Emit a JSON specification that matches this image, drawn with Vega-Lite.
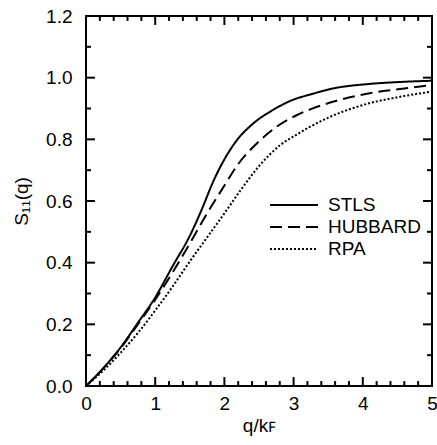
{
  "$schema": "https://vega.github.io/schema/vega-lite/v6.json",
  "width": 346,
  "height": 370,
  "autosize": {"type": "none"},
  "padding": {"left": 86, "top": 16, "right": 5, "bottom": 59},
  "background": "white",
  "config": {
    "font": "Liberation Sans",
    "view": {"stroke": "black", "strokeWidth": 2},
    "axis": {
      "domain": false,
      "ticks": false,
      "tickSize": 0,
      "grid": false,
      "labelColor": "black",
      "labelFontSize": 19,
      "labelFont": "Liberation Sans",
      "titleFont": "Liberation Sans",
      "titleFontSize": 19,
      "titleFontWeight": "normal",
      "titleColor": "black"
    }
  },
  "datasets": {
    "main": [
      {"q": 0, "S": 0, "model": "STLS"},
      {"q": 0.25, "S": 0.058, "model": "STLS"},
      {"q": 0.5, "S": 0.125, "model": "STLS"},
      {"q": 0.75, "S": 0.205, "model": "STLS"},
      {"q": 1.0, "S": 0.287, "model": "STLS"},
      {"q": 1.25, "S": 0.388, "model": "STLS"},
      {"q": 1.5, "S": 0.487, "model": "STLS"},
      {"q": 1.67, "S": 0.571, "model": "STLS"},
      {"q": 1.84, "S": 0.664, "model": "STLS"},
      {"q": 2.0, "S": 0.735, "model": "STLS"},
      {"q": 2.18, "S": 0.797, "model": "STLS"},
      {"q": 2.42, "S": 0.852, "model": "STLS"},
      {"q": 2.7, "S": 0.895, "model": "STLS"},
      {"q": 3.0, "S": 0.929, "model": "STLS"},
      {"q": 3.25, "S": 0.946, "model": "STLS"},
      {"q": 3.57, "S": 0.965, "model": "STLS"},
      {"q": 4.06, "S": 0.979, "model": "STLS"},
      {"q": 4.54, "S": 0.986, "model": "STLS"},
      {"q": 5.0, "S": 0.99, "model": "STLS"},
      {"q": 0, "S": 0, "model": "HUBBARD"},
      {"q": 0.25, "S": 0.057, "model": "HUBBARD"},
      {"q": 0.5, "S": 0.123, "model": "HUBBARD"},
      {"q": 0.75, "S": 0.2, "model": "HUBBARD"},
      {"q": 1.0, "S": 0.28, "model": "HUBBARD"},
      {"q": 1.25, "S": 0.368, "model": "HUBBARD"},
      {"q": 1.5, "S": 0.462, "model": "HUBBARD"},
      {"q": 1.75, "S": 0.56, "model": "HUBBARD"},
      {"q": 2.0, "S": 0.65, "model": "HUBBARD"},
      {"q": 2.2, "S": 0.72, "model": "HUBBARD"},
      {"q": 2.47, "S": 0.787, "model": "HUBBARD"},
      {"q": 2.75, "S": 0.84, "model": "HUBBARD"},
      {"q": 3.05, "S": 0.879, "model": "HUBBARD"},
      {"q": 3.24, "S": 0.897, "model": "HUBBARD"},
      {"q": 3.57, "S": 0.922, "model": "HUBBARD"},
      {"q": 4.06, "S": 0.948, "model": "HUBBARD"},
      {"q": 4.54, "S": 0.963, "model": "HUBBARD"},
      {"q": 5.0, "S": 0.976, "model": "HUBBARD"},
      {"q": 0, "S": 0, "model": "RPA"},
      {"q": 0.25, "S": 0.05, "model": "RPA"},
      {"q": 0.5, "S": 0.108, "model": "RPA"},
      {"q": 0.75, "S": 0.172, "model": "RPA"},
      {"q": 1.0, "S": 0.245, "model": "RPA"},
      {"q": 1.25, "S": 0.322, "model": "RPA"},
      {"q": 1.5, "S": 0.404, "model": "RPA"},
      {"q": 1.75, "S": 0.482, "model": "RPA"},
      {"q": 2.0, "S": 0.56, "model": "RPA"},
      {"q": 2.25, "S": 0.64, "model": "RPA"},
      {"q": 2.5, "S": 0.713, "model": "RPA"},
      {"q": 2.8, "S": 0.78, "model": "RPA"},
      {"q": 3.05, "S": 0.816, "model": "RPA"},
      {"q": 3.24, "S": 0.841, "model": "RPA"},
      {"q": 3.57, "S": 0.877, "model": "RPA"},
      {"q": 4.06, "S": 0.915, "model": "RPA"},
      {"q": 4.54, "S": 0.938, "model": "RPA"},
      {"q": 5.0, "S": 0.955, "model": "RPA"}
    ],
    "xt": [
      {"q": 1, "kind": "major"}, {"q": 2, "kind": "major"}, {"q": 3, "kind": "major"}, {"q": 4, "kind": "major"},
      {"q": 0.2, "kind": "minor"}, {"q": 0.4, "kind": "minor"}, {"q": 0.6, "kind": "minor"}, {"q": 0.8, "kind": "minor"},
      {"q": 1.2, "kind": "minor"}, {"q": 1.4, "kind": "minor"}, {"q": 1.6, "kind": "minor"}, {"q": 1.8, "kind": "minor"},
      {"q": 2.2, "kind": "minor"}, {"q": 2.4, "kind": "minor"}, {"q": 2.6, "kind": "minor"}, {"q": 2.8, "kind": "minor"},
      {"q": 3.2, "kind": "minor"}, {"q": 3.4, "kind": "minor"}, {"q": 3.6, "kind": "minor"}, {"q": 3.8, "kind": "minor"},
      {"q": 4.2, "kind": "minor"}, {"q": 4.4, "kind": "minor"}, {"q": 4.6, "kind": "minor"}, {"q": 4.8, "kind": "minor"}
    ],
    "yt": [
      {"S": 0.2, "kind": "major"}, {"S": 0.4, "kind": "major"}, {"S": 0.6, "kind": "major"}, {"S": 0.8, "kind": "major"}, {"S": 1.0, "kind": "major"},
      {"S": 0.1, "kind": "minor"}, {"S": 0.3, "kind": "minor"}, {"S": 0.5, "kind": "minor"}, {"S": 0.7, "kind": "minor"}, {"S": 0.9, "kind": "minor"}, {"S": 1.1, "kind": "minor"}
    ]
  },
  "layer": [
    {
      "data": {"name": "main"},
      "mark": {"type": "line", "interpolate": "monotone", "color": "black", "strokeWidth": 2},
      "encoding": {
        "x": {
          "field": "q", "type": "quantitative",
          "scale": {"domain": [0, 5], "nice": false, "zero": false},
          "axis": {
            "orient": "bottom",
            "title": "q/kꜰ",
            "values": [0, 1, 2, 3, 4, 5],
            "format": "d",
            "labelPadding": 8,
            "labelFlush": false,
            "labelOverlap": false,
            "titlePadding": 3
          }
        },
        "y": {
          "field": "S", "type": "quantitative",
          "scale": {"domain": [0, 1.2], "nice": false, "zero": false},
          "axis": {
            "orient": "left",
            "title": "S₁₁(q)",
            "values": [0, 0.2, 0.4, 0.6, 0.8, 1.0, 1.2],
            "format": ".1f",
            "labelPadding": 14,
            "labelFlush": false,
            "labelOverlap": false,
            "titlePadding": 14
          }
        },
        "strokeDash": {
          "field": "model", "type": "nominal",
          "scale": {"domain": ["STLS", "HUBBARD", "RPA"], "range": [[1, 0], [12, 6], [2, 2]]},
          "legend": {
            "orient": "none",
            "legendX": 183,
            "legendY": 178,
            "title": null,
            "symbolType": "stroke",
            "symbolSize": 2300,
            "symbolStrokeWidth": 2,
            "symbolStrokeColor": "black",
            "labelFontSize": 19,
            "labelFont": "Liberation Sans",
            "labelColor": "black",
            "labelOffset": 9,
            "clipHeight": 22,
            "rowPadding": 0
          }
        },
        "detail": {"field": "model"}
      }
    },
    {
      "data": {"name": "xt"},
      "transform": [{"filter": "datum.kind == 'major'"}],
      "mark": {"type": "rule", "color": "black", "strokeWidth": 2},
      "encoding": {
        "x": {"field": "q", "type": "quantitative"},
        "y": {"datum": 0},
        "y2": {"datum": 0.029}
      }
    },
    {
      "data": {"name": "xt"},
      "transform": [{"filter": "datum.kind == 'major'"}],
      "mark": {"type": "rule", "color": "black", "strokeWidth": 2},
      "encoding": {
        "x": {"field": "q", "type": "quantitative"},
        "y": {"datum": 1.2},
        "y2": {"datum": 1.171}
      }
    },
    {
      "data": {"name": "xt"},
      "transform": [{"filter": "datum.kind == 'minor'"}],
      "mark": {"type": "rule", "color": "black", "strokeWidth": 2},
      "encoding": {
        "x": {"field": "q", "type": "quantitative"},
        "y": {"datum": 0},
        "y2": {"datum": 0.016}
      }
    },
    {
      "data": {"name": "xt"},
      "transform": [{"filter": "datum.kind == 'minor'"}],
      "mark": {"type": "rule", "color": "black", "strokeWidth": 2},
      "encoding": {
        "x": {"field": "q", "type": "quantitative"},
        "y": {"datum": 1.2},
        "y2": {"datum": 1.184}
      }
    },
    {
      "data": {"name": "yt"},
      "transform": [{"filter": "datum.kind == 'major'"}],
      "mark": {"type": "rule", "color": "black", "strokeWidth": 2},
      "encoding": {
        "y": {"field": "S", "type": "quantitative"},
        "x": {"datum": 0},
        "x2": {"datum": 0.13}
      }
    },
    {
      "data": {"name": "yt"},
      "transform": [{"filter": "datum.kind == 'major'"}],
      "mark": {"type": "rule", "color": "black", "strokeWidth": 2},
      "encoding": {
        "y": {"field": "S", "type": "quantitative"},
        "x": {"datum": 5},
        "x2": {"datum": 4.87}
      }
    },
    {
      "data": {"name": "yt"},
      "transform": [{"filter": "datum.kind == 'minor'"}],
      "mark": {"type": "rule", "color": "black", "strokeWidth": 2},
      "encoding": {
        "y": {"field": "S", "type": "quantitative"},
        "x": {"datum": 0},
        "x2": {"datum": 0.072}
      }
    },
    {
      "data": {"name": "yt"},
      "transform": [{"filter": "datum.kind == 'minor'"}],
      "mark": {"type": "rule", "color": "black", "strokeWidth": 2},
      "encoding": {
        "y": {"field": "S", "type": "quantitative"},
        "x": {"datum": 5},
        "x2": {"datum": 4.928}
      }
    }
  ]
}
